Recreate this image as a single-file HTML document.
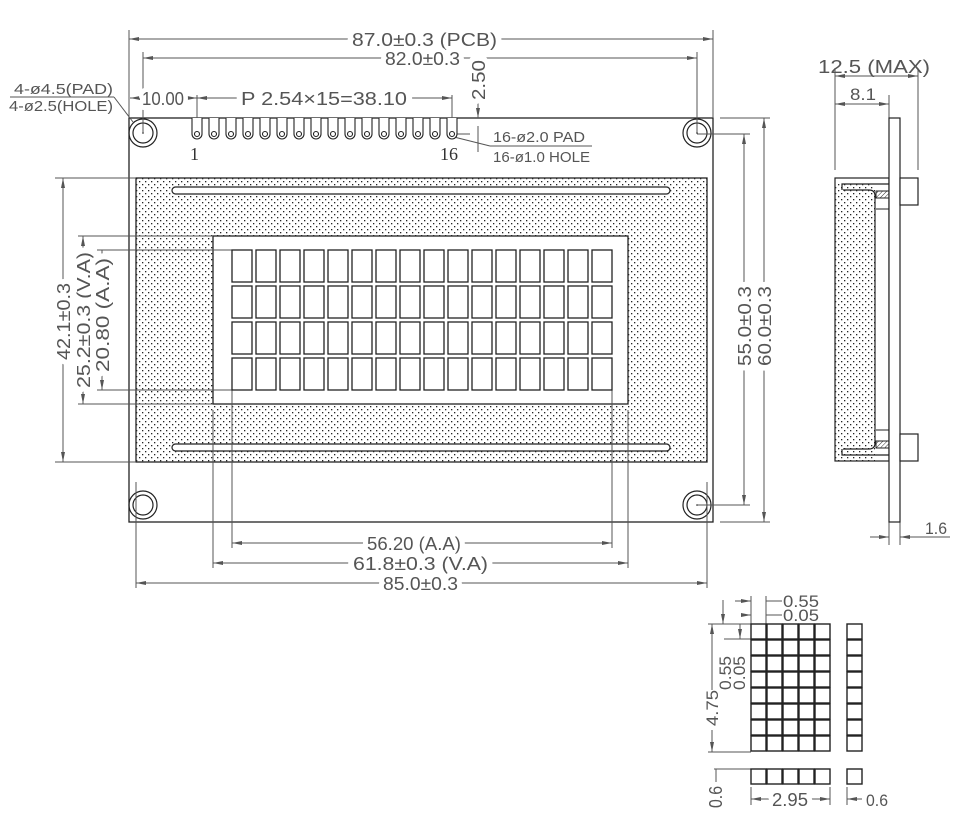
<!DOCTYPE html>
<html><head><meta charset="utf-8"><style>
html,body{margin:0;padding:0;background:#fff;}
svg{display:block;}
text{font-family:"Liberation Sans",sans-serif;fill:#555;font-size:16px;}
.t{stroke:#fff;stroke-width:10px;stroke-linejoin:round;paint-order:stroke;font-size:18px;}
.n{font-size:17px;}
</style></head><body>
<svg width="957" height="814" viewBox="0 0 957 814" xmlns="http://www.w3.org/2000/svg">
<defs>
<pattern id="dots" width="6" height="6" patternUnits="userSpaceOnUse">
<rect x="1" y="1" width="1.3" height="1.3" fill="#222"/>
<rect x="4" y="4" width="1.3" height="1.3" fill="#222"/>
</pattern>
<pattern id="hatch" width="3" height="3" patternUnits="userSpaceOnUse" patternTransform="rotate(45)">
<line x1="0" y1="0" x2="0" y2="3" stroke="#333" stroke-width="1"/>
</pattern>
<marker id="a" viewBox="0 0 10 4" refX="10" refY="2" markerWidth="10" markerHeight="4" orient="auto-start-reverse" markerUnits="userSpaceOnUse">
<path d="M0,0 L10,2 L0,4z" fill="#555"/>
</marker>
</defs>

<rect x="129" y="118" width="584" height="404" fill="#fff" stroke="#222" stroke-width="1.3"/>
<rect x="136" y="178" width="571" height="284" fill="url(#dots)" stroke="#222" stroke-width="1.3"/>
<rect x="172" y="187" width="498" height="7" rx="3.5" fill="#fff" stroke="#222" stroke-width="1.2"/>
<rect x="172" y="444" width="498" height="7" rx="3.5" fill="#fff" stroke="#222" stroke-width="1.2"/>
<rect x="213" y="236" width="415" height="168" fill="#fff" stroke="#222" stroke-width="1.3"/>

<g fill="none" stroke="#222" stroke-width="1.2">
<circle cx="143" cy="133" r="14"/><circle cx="143" cy="133" r="10"/>
<circle cx="697" cy="133" r="14"/><circle cx="697" cy="133" r="10"/>
<circle cx="143" cy="505" r="14"/><circle cx="143" cy="505" r="10"/>
<circle cx="697" cy="505" r="14"/><circle cx="697" cy="505" r="10"/>
</g>
<text x="190" y="160" style="font-family:'Liberation Serif',serif;font-size:18px;fill:#333">1</text>
<text x="440" y="160" style="font-family:'Liberation Serif',serif;font-size:18px;fill:#333">16</text>

<g stroke="#555" stroke-width="1" fill="none">
<line x1="129" y1="30" x2="129" y2="118"/>
<line x1="713" y1="30" x2="713" y2="118"/>
<line x1="143" y1="52" x2="143" y2="133"/>
<line x1="697" y1="52" x2="697" y2="133"/>
<line x1="129" y1="39" x2="713" y2="39" marker-start="url(#a)" marker-end="url(#a)"/>
<line x1="143" y1="58" x2="697" y2="58" marker-start="url(#a)" marker-end="url(#a)"/>
<line x1="197" y1="95" x2="197" y2="125"/>
<line x1="452" y1="95" x2="452" y2="125"/>
<line x1="130" y1="98" x2="197" y2="98" marker-start="url(#a)" marker-end="url(#a)"/>
<line x1="197" y1="98" x2="452" y2="98" marker-start="url(#a)" marker-end="url(#a)"/>
<line x1="478" y1="100" x2="478" y2="118" marker-end="url(#a)"/>
<line x1="478" y1="126" x2="478" y2="152"/>
<line x1="456" y1="134" x2="470" y2="134"/>
<line x1="454" y1="137" x2="490" y2="146"/>
<line x1="490" y1="146" x2="592" y2="146"/>
<line x1="10" y1="97" x2="114" y2="97"/>
<line x1="114" y1="97" x2="133" y2="122"/>
<line x1="55" y1="178" x2="136" y2="178"/>
<line x1="55" y1="462" x2="136" y2="462"/>
<line x1="63" y1="178" x2="63" y2="462" marker-start="url(#a)" marker-end="url(#a)"/>
<line x1="78" y1="236" x2="213" y2="236"/>
<line x1="78" y1="404" x2="213" y2="404"/>
<line x1="83" y1="236" x2="83" y2="404" marker-start="url(#a)" marker-end="url(#a)"/>
<line x1="97" y1="250" x2="232" y2="250"/>
<line x1="97" y1="390" x2="232" y2="390"/>
<line x1="102" y1="250" x2="102" y2="390" marker-start="url(#a)" marker-end="url(#a)"/>
<line x1="697" y1="134" x2="750" y2="134"/>
<line x1="697" y1="505" x2="750" y2="505"/>
<line x1="720" y1="118" x2="770" y2="118"/>
<line x1="720" y1="522" x2="770" y2="522"/>
<line x1="744" y1="134" x2="744" y2="505" marker-start="url(#a)" marker-end="url(#a)"/>
<line x1="764" y1="118" x2="764" y2="522" marker-start="url(#a)" marker-end="url(#a)"/>
<line x1="232" y1="390" x2="232" y2="548"/>
<line x1="612" y1="390" x2="612" y2="548"/>
<line x1="213" y1="410" x2="213" y2="568"/>
<line x1="628" y1="410" x2="628" y2="568"/>
<line x1="136" y1="482" x2="136" y2="588"/>
<line x1="707" y1="482" x2="707" y2="588"/>
<line x1="232" y1="543" x2="612" y2="543" marker-start="url(#a)" marker-end="url(#a)"/>
<line x1="213" y1="563" x2="628" y2="563" marker-start="url(#a)" marker-end="url(#a)"/>
<line x1="136" y1="583" x2="707" y2="583" marker-start="url(#a)" marker-end="url(#a)"/>
<line x1="835" y1="68" x2="835" y2="170"/>
<line x1="918" y1="68" x2="918" y2="170"/>
<line x1="889" y1="95" x2="889" y2="118"/>
<line x1="835" y1="76" x2="918" y2="76" marker-start="url(#a)" marker-end="url(#a)"/>
<line x1="835" y1="104" x2="889" y2="104" marker-start="url(#a)" marker-end="url(#a)"/>
<line x1="889" y1="522" x2="889" y2="545"/>
<line x1="900" y1="522" x2="900" y2="545"/>
<line x1="870" y1="537" x2="889" y2="537" marker-end="url(#a)"/>
<line x1="920" y1="537" x2="900" y2="537" marker-end="url(#a)"/>
<line x1="920" y1="537" x2="950" y2="537"/>
</g>

<text class="t" x="352" y="46" textLength="145" lengthAdjust="spacingAndGlyphs">87.0±0.3 (PCB)</text>
<text class="t" x="385" y="65" textLength="75" lengthAdjust="spacingAndGlyphs">82.0±0.3</text>
<text class="t" x="142" y="105" textLength="42" lengthAdjust="spacingAndGlyphs">10.00</text>
<text class="t" x="241" y="105" textLength="166" lengthAdjust="spacingAndGlyphs">P  2.54×15=38.10</text>
<text class="t" transform="translate(485,100) rotate(-90)" textLength="40" lengthAdjust="spacingAndGlyphs">2.50</text>
<text x="14" y="94" textLength="99" lengthAdjust="spacingAndGlyphs" style="font-size:15px">4-ø4.5(PAD)</text>
<text x="9" y="111" textLength="104" lengthAdjust="spacingAndGlyphs" style="font-size:15px">4-ø2.5(HOLE)</text>
<text x="493" y="142" textLength="92" lengthAdjust="spacingAndGlyphs" style="font-size:15px">16-ø2.0 PAD</text>
<text x="493" y="162" textLength="97" lengthAdjust="spacingAndGlyphs" style="font-size:15px">16-ø1.0 HOLE</text>
<text class="t" transform="translate(70,360) rotate(-90)" textLength="77" lengthAdjust="spacingAndGlyphs">42.1±0.3</text>
<text class="t" transform="translate(90,388) rotate(-90)" textLength="136" lengthAdjust="spacingAndGlyphs">25.2±0.3 (V.A)</text>
<text class="t" transform="translate(109,372) rotate(-90)" textLength="114" lengthAdjust="spacingAndGlyphs">20.80 (A.A)</text>
<text class="t" transform="translate(751,366) rotate(-90)" textLength="80" lengthAdjust="spacingAndGlyphs">55.0±0.3</text>
<text class="t" transform="translate(771,366) rotate(-90)" textLength="80" lengthAdjust="spacingAndGlyphs">60.0±0.3</text>
<text class="t" x="367" y="550" textLength="94" lengthAdjust="spacingAndGlyphs">56.20 (A.A)</text>
<text class="t" x="353" y="570" textLength="135" lengthAdjust="spacingAndGlyphs">61.8±0.3 (V.A)</text>
<text class="t" x="383" y="590" textLength="75" lengthAdjust="spacingAndGlyphs">85.0±0.3</text>
<text x="818" y="73" textLength="112" lengthAdjust="spacingAndGlyphs" style="font-size:18px">12.5 (MAX)</text>
<text x="850" y="100" textLength="26" lengthAdjust="spacingAndGlyphs" style="font-size:17px">8.1</text>
<text x="925" y="534" textLength="22" lengthAdjust="spacingAndGlyphs" style="font-size:17px">1.6</text>

<rect x="835" y="178" width="54" height="283" fill="#fff" stroke="#222" stroke-width="1.2"/>
<path d="M835,178 V461 H875 V190 Q875,184 869,184 H835z" fill="url(#dots)" stroke="none"/>
<path d="M842,190 V184 H889" fill="none" stroke="#222" stroke-width="1.2"/>
<path d="M842,449 V455 H889" fill="none" stroke="#222" stroke-width="1.2"/>
<path d="M843,190 H869 Q875,190 875,196 V443 Q875,449 869,449 H843" fill="none" stroke="#222" stroke-width="1.2"/>
<rect x="876" y="191" width="13" height="7" fill="url(#hatch)" stroke="#222" stroke-width="1"/>
<rect x="876" y="441" width="13" height="7" fill="url(#hatch)" stroke="#222" stroke-width="1"/>
<line x1="876" y1="209" x2="889" y2="209" stroke="#222"/>
<line x1="876" y1="430" x2="889" y2="430" stroke="#222"/>
<rect x="889" y="118" width="11" height="404" fill="#fff" stroke="#222" stroke-width="1.2"/>
<rect x="900" y="178" width="18" height="27" fill="#fff" stroke="#222" stroke-width="1.2"/>
<rect x="900" y="434" width="18" height="27" fill="#fff" stroke="#222" stroke-width="1.2"/>

<g stroke="#555" stroke-width="1" fill="none">
<line x1="751" y1="596" x2="751" y2="624"/>
<line x1="766" y1="596" x2="766" y2="624"/>
<line x1="735" y1="601" x2="751" y2="601" marker-end="url(#a)"/>
<line x1="766" y1="601" x2="782" y2="601"/>
<line x1="766" y1="615" x2="782" y2="615"/>
<line x1="745" y1="615" x2="751" y2="615" marker-end="url(#a)"/>
<line x1="708" y1="624" x2="751" y2="624"/>
<line x1="708" y1="752" x2="751" y2="752"/>
<line x1="724" y1="639" x2="751" y2="639"/>
<line x1="712" y1="624" x2="712" y2="690" marker-start="url(#a)"/>
<line x1="712" y1="730" x2="712" y2="752" marker-end="url(#a)"/>
<line x1="723" y1="600" x2="723" y2="624" marker-end="url(#a)"/>
<line x1="740" y1="624" x2="740" y2="639" marker-end="url(#a)"/>
<line x1="714" y1="769" x2="751" y2="769"/>
<line x1="716" y1="769" x2="716" y2="782"/>
<line x1="751" y1="787" x2="751" y2="805"/>
<line x1="830" y1="787" x2="830" y2="805"/>
<line x1="751" y1="799" x2="830" y2="799" marker-start="url(#a)" marker-end="url(#a)"/>
<line x1="847" y1="787" x2="847" y2="805"/>
<line x1="847" y1="799" x2="862" y2="799" marker-start="url(#a)"/>
</g>
<text x="783" y="607" textLength="36" lengthAdjust="spacingAndGlyphs" class="n">0.55</text>
<text x="783" y="621" textLength="36" lengthAdjust="spacingAndGlyphs" class="n">0.05</text>
<text class="n" transform="translate(718,726) rotate(-90)" textLength="36" lengthAdjust="spacingAndGlyphs">4.75</text>
<text class="n" transform="translate(731,690) rotate(-90)" textLength="34" lengthAdjust="spacingAndGlyphs">0.55</text>
<text class="n" transform="translate(745,690) rotate(-90)" textLength="34" lengthAdjust="spacingAndGlyphs">0.05</text>
<text class="t" transform="translate(722,808) rotate(-90)" textLength="22" lengthAdjust="spacingAndGlyphs">0.6</text>
<text class="t" x="772" y="806" textLength="36" lengthAdjust="spacingAndGlyphs">2.95</text>
<text x="866" y="806" textLength="22" lengthAdjust="spacingAndGlyphs" class="n">0.6</text>

<g fill="#fff" stroke="#222" stroke-width="1.3">
<rect x="232" y="250" width="20" height="32"/><rect x="256" y="250" width="20" height="32"/><rect x="280" y="250" width="20" height="32"/><rect x="304" y="250" width="20" height="32"/><rect x="328" y="250" width="20" height="32"/><rect x="352" y="250" width="20" height="32"/><rect x="376" y="250" width="20" height="32"/><rect x="400" y="250" width="20" height="32"/><rect x="424" y="250" width="20" height="32"/><rect x="448" y="250" width="20" height="32"/><rect x="472" y="250" width="20" height="32"/><rect x="496" y="250" width="20" height="32"/><rect x="520" y="250" width="20" height="32"/><rect x="544" y="250" width="20" height="32"/><rect x="568" y="250" width="20" height="32"/><rect x="592" y="250" width="20" height="32"/>
<rect x="232" y="286" width="20" height="32"/><rect x="256" y="286" width="20" height="32"/><rect x="280" y="286" width="20" height="32"/><rect x="304" y="286" width="20" height="32"/><rect x="328" y="286" width="20" height="32"/><rect x="352" y="286" width="20" height="32"/><rect x="376" y="286" width="20" height="32"/><rect x="400" y="286" width="20" height="32"/><rect x="424" y="286" width="20" height="32"/><rect x="448" y="286" width="20" height="32"/><rect x="472" y="286" width="20" height="32"/><rect x="496" y="286" width="20" height="32"/><rect x="520" y="286" width="20" height="32"/><rect x="544" y="286" width="20" height="32"/><rect x="568" y="286" width="20" height="32"/><rect x="592" y="286" width="20" height="32"/>
<rect x="232" y="322" width="20" height="32"/><rect x="256" y="322" width="20" height="32"/><rect x="280" y="322" width="20" height="32"/><rect x="304" y="322" width="20" height="32"/><rect x="328" y="322" width="20" height="32"/><rect x="352" y="322" width="20" height="32"/><rect x="376" y="322" width="20" height="32"/><rect x="400" y="322" width="20" height="32"/><rect x="424" y="322" width="20" height="32"/><rect x="448" y="322" width="20" height="32"/><rect x="472" y="322" width="20" height="32"/><rect x="496" y="322" width="20" height="32"/><rect x="520" y="322" width="20" height="32"/><rect x="544" y="322" width="20" height="32"/><rect x="568" y="322" width="20" height="32"/><rect x="592" y="322" width="20" height="32"/>
<rect x="232" y="358" width="20" height="32"/><rect x="256" y="358" width="20" height="32"/><rect x="280" y="358" width="20" height="32"/><rect x="304" y="358" width="20" height="32"/><rect x="328" y="358" width="20" height="32"/><rect x="352" y="358" width="20" height="32"/><rect x="376" y="358" width="20" height="32"/><rect x="400" y="358" width="20" height="32"/><rect x="424" y="358" width="20" height="32"/><rect x="448" y="358" width="20" height="32"/><rect x="472" y="358" width="20" height="32"/><rect x="496" y="358" width="20" height="32"/><rect x="520" y="358" width="20" height="32"/><rect x="544" y="358" width="20" height="32"/><rect x="568" y="358" width="20" height="32"/><rect x="592" y="358" width="20" height="32"/>
</g>
<g fill="#fff" stroke="#222" stroke-width="1.1">
<path d="M192,118V134A5,5 0 0 0 202,134V118"/><circle cx="197" cy="134" r="2.5"/>
<path d="M209,118V134A5,5 0 0 0 219,134V118"/><circle cx="214" cy="134" r="2.5"/>
<path d="M226,118V134A5,5 0 0 0 236,134V118"/><circle cx="231" cy="134" r="2.5"/>
<path d="M243,118V134A5,5 0 0 0 253,134V118"/><circle cx="248" cy="134" r="2.5"/>
<path d="M260,118V134A5,5 0 0 0 270,134V118"/><circle cx="265" cy="134" r="2.5"/>
<path d="M277,118V134A5,5 0 0 0 287,134V118"/><circle cx="282" cy="134" r="2.5"/>
<path d="M294,118V134A5,5 0 0 0 304,134V118"/><circle cx="299" cy="134" r="2.5"/>
<path d="M311,118V134A5,5 0 0 0 321,134V118"/><circle cx="316" cy="134" r="2.5"/>
<path d="M328,118V134A5,5 0 0 0 338,134V118"/><circle cx="333" cy="134" r="2.5"/>
<path d="M345,118V134A5,5 0 0 0 355,134V118"/><circle cx="350" cy="134" r="2.5"/>
<path d="M362,118V134A5,5 0 0 0 372,134V118"/><circle cx="367" cy="134" r="2.5"/>
<path d="M379,118V134A5,5 0 0 0 389,134V118"/><circle cx="384" cy="134" r="2.5"/>
<path d="M396,118V134A5,5 0 0 0 406,134V118"/><circle cx="401" cy="134" r="2.5"/>
<path d="M413,118V134A5,5 0 0 0 423,134V118"/><circle cx="418" cy="134" r="2.5"/>
<path d="M430,118V134A5,5 0 0 0 440,134V118"/><circle cx="435" cy="134" r="2.5"/>
<path d="M447,118V134A5,5 0 0 0 457,134V118"/><circle cx="452" cy="134" r="2.5"/>
</g>
<g fill="#fff" stroke="#222" stroke-width="1.4">
<rect x="751" y="624" width="15" height="15"/><rect x="767" y="624" width="15" height="15"/><rect x="783" y="624" width="15" height="15"/><rect x="799" y="624" width="15" height="15"/><rect x="815" y="624" width="15" height="15"/><rect x="847" y="624" width="15" height="15"/>
<rect x="751" y="640" width="15" height="15"/><rect x="767" y="640" width="15" height="15"/><rect x="783" y="640" width="15" height="15"/><rect x="799" y="640" width="15" height="15"/><rect x="815" y="640" width="15" height="15"/><rect x="847" y="640" width="15" height="15"/>
<rect x="751" y="656" width="15" height="15"/><rect x="767" y="656" width="15" height="15"/><rect x="783" y="656" width="15" height="15"/><rect x="799" y="656" width="15" height="15"/><rect x="815" y="656" width="15" height="15"/><rect x="847" y="656" width="15" height="15"/>
<rect x="751" y="672" width="15" height="15"/><rect x="767" y="672" width="15" height="15"/><rect x="783" y="672" width="15" height="15"/><rect x="799" y="672" width="15" height="15"/><rect x="815" y="672" width="15" height="15"/><rect x="847" y="672" width="15" height="15"/>
<rect x="751" y="688" width="15" height="15"/><rect x="767" y="688" width="15" height="15"/><rect x="783" y="688" width="15" height="15"/><rect x="799" y="688" width="15" height="15"/><rect x="815" y="688" width="15" height="15"/><rect x="847" y="688" width="15" height="15"/>
<rect x="751" y="704" width="15" height="15"/><rect x="767" y="704" width="15" height="15"/><rect x="783" y="704" width="15" height="15"/><rect x="799" y="704" width="15" height="15"/><rect x="815" y="704" width="15" height="15"/><rect x="847" y="704" width="15" height="15"/>
<rect x="751" y="720" width="15" height="15"/><rect x="767" y="720" width="15" height="15"/><rect x="783" y="720" width="15" height="15"/><rect x="799" y="720" width="15" height="15"/><rect x="815" y="720" width="15" height="15"/><rect x="847" y="720" width="15" height="15"/>
<rect x="751" y="736" width="15" height="15"/><rect x="767" y="736" width="15" height="15"/><rect x="783" y="736" width="15" height="15"/><rect x="799" y="736" width="15" height="15"/><rect x="815" y="736" width="15" height="15"/><rect x="847" y="736" width="15" height="15"/>
<rect x="751" y="769" width="15" height="15"/><rect x="767" y="769" width="15" height="15"/><rect x="783" y="769" width="15" height="15"/><rect x="799" y="769" width="15" height="15"/><rect x="815" y="769" width="15" height="15"/><rect x="847" y="769" width="15" height="15"/>
</g>
<g fill="#222"><circle cx="143" cy="133" r="0.8"/><circle cx="697" cy="133" r="0.8"/><circle cx="697" cy="505" r="0.8"/></g>
</svg>
</body></html>
